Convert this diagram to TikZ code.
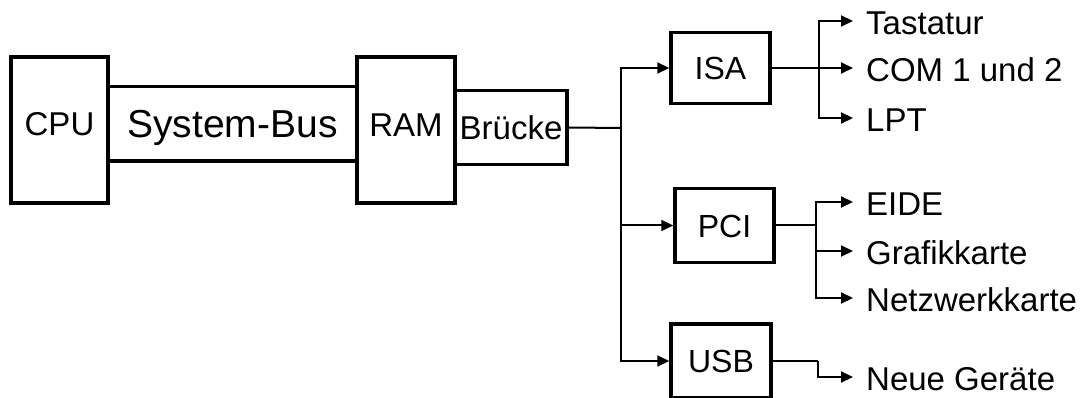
\documentclass[tikz,border=0pt]{standalone}
\usepackage{fontspec}
\setmainfont{Liberation Sans}
\usetikzlibrary{arrows.meta}
\begin{document}
\begin{tikzpicture}[x=1pt,y=-1pt,
  box/.style={draw,line width=3.5pt,inner sep=0,text height=23.5pt,text depth=0pt,font=\fontsize{33}{40}\selectfont},
  lbl/.style={anchor=west,inner sep=0,text height=27pt,text depth=0pt,font=\fontsize{33}{40}\selectfont},
  ln/.style={line width=2pt},
  arr/.style={line width=2pt,-{Triangle[length=12pt,width=11pt]}}]
\useasboundingbox (0,0) rectangle (1092,398);
% main board
\node[box,minimum width=97pt,minimum height=146pt,text depth=12pt] (cpu) at (59.5,130) {CPU};
\node[box,minimum width=249pt,minimum height=74.5pt,font=\fontsize{39}{46}\selectfont,text height=28pt] (bus) at (232.5,123.75) {System-Bus};
\node[box,minimum width=98pt,minimum height=146pt,text depth=10pt] (ram) at (406,130) {RAM};
\node[box,minimum width=112pt,minimum height=74pt] (bru) at (511,127.5) {Brücke};
% bus systems
\node[box,minimum width=99pt,minimum height=71pt,font=\fontsize{32}{38}\selectfont] (isa) at (720.5,68) {ISA};
\node[box,minimum width=99pt,minimum height=74pt,font=\fontsize{32}{38}\selectfont] (pci) at (724.5,225.5) {PCI};
\node[box,minimum width=100pt,minimum height=74pt,font=\fontsize{32}{38}\selectfont] (usb) at (721,361) {USB};
\coordinate (tr) at (621,128);
\draw[ln] (bru.east) -- (tr);
\foreach \b in {isa,pci,usb}{\draw[arr] (tr) |- (\b.west);}
% devices
\foreach \n/\y/\t in {tast/21/Tastatur,com/68/COM 1 und 2,lpt/118/LPT,eide/202/EIDE,graf/251/Grafikkarte,netz/298/Netzwerkkarte,neu/377/Neue Geräte}{
  \node[lbl] (\n) at (866,\y) {\t};}
\coordinate (isab) at (819,68);
\coordinate (pcib) at (816,225.5);
\coordinate (usbb) at (818,361);
\draw[ln] (isa.east) -- (isab);
\draw[ln] (pci.east) -- (pcib);
\draw[ln] (usb.east) -- (usbb);
\foreach \s/\n in {isab/tast,isab/com,isab/lpt,pcib/eide,pcib/graf,pcib/netz,usbb/neu}{
  \draw[arr,shorten >=13pt] (\s) |- (\n.west);}
\end{tikzpicture}
\end{document}
